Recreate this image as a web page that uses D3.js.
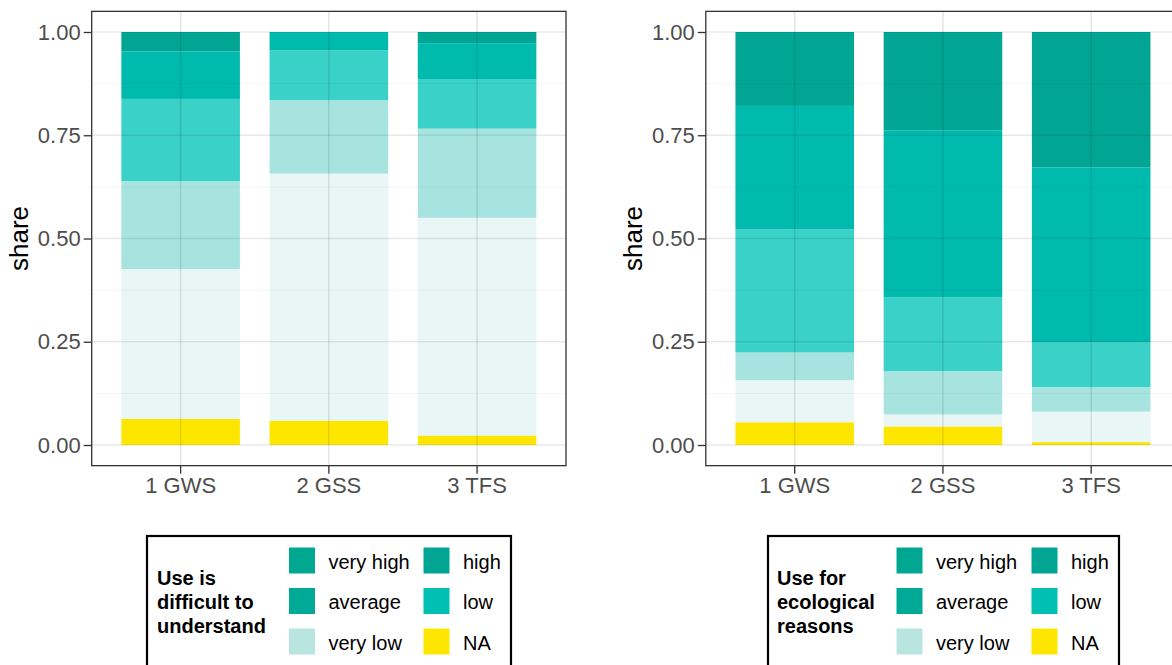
<!DOCTYPE html>
<html>
<head>
<meta charset="utf-8">
<script src="https://cdn.jsdelivr.net/npm/d3@7"></script>
<style>
  html, body { margin: 0; padding: 0; background: #fff; }
  svg { display: block; font-family: "Liberation Sans", Arial, sans-serif; }
</style>
</head>
<body>
<svg id="chart" width="1172" height="665"></svg>
<script>
// ---------- data ----------
const categories = ["1 GWS", "2 GSS", "3 TFS"];
const levels = ["very high", "high", "average", "low", "very low", "NA"];
const yTicks = [0, 0.25, 0.5, 0.75, 1];
const yTickLabels = ["0.00", "0.25", "0.50", "0.75", "1.00"];

// Chart 1: "Use is difficult to understand" (share per category)
const difficultVeryHigh = [0.047, 0.000, 0.027];
const difficultHigh     = [0.115, 0.044, 0.087];
const difficultAverage  = [0.199, 0.121, 0.120];
const difficultLow      = [0.213, 0.178, 0.216];
const difficultVeryLow  = [0.363, 0.598, 0.527];
const difficultNA       = [0.063, 0.059, 0.023];

// Chart 2: "Use for ecological reasons"
const ecoVeryHigh = [0.179, 0.238, 0.328];
const ecoHigh     = [0.299, 0.404, 0.423];
const ecoAverage  = [0.298, 0.179, 0.109];
const ecoLow      = [0.067, 0.105, 0.059];
const ecoVeryLow  = [0.102, 0.029, 0.074];
const ecoNA       = [0.055, 0.045, 0.007];

const barColors = {
  "very high": "#00A693", "high": "#00BAAD", "average": "#39D1C8",
  "low": "#A7E4E0", "very low": "#E8F7F6", "NA": "#FFE600"
};
const legendColors = {
  "very high": "#00A891", "high": "#00A693", "average": "#00AA96",
  "low": "#00C0B3", "very low": "#B9E5E1", "NA": "#FFE600"
};

function buildRows(vh, h, a, l, vl, na) {
  return categories.map((c, i) => ({
    cat: c, "very high": vh[i], "high": h[i], "average": a[i],
    "low": l[i], "very low": vl[i], "NA": na[i]
  }));
}

const svg = d3.select("#chart");

function drawPanel(cfg) {
  const g = svg.append("g");
  const x0 = cfg.left, x1 = cfg.left + cfg.width;
  const top = 11.35, bottom = 465.65;
  const y = d3.scaleLinear().domain([-0.05, 1.05]).range([bottom, top]);
  const x = d3.scaleBand().domain(categories)
    .range([x0, x1]).paddingInner(0.2).paddingOuter(0.2);

  // bars (stacked, NA at bottom)
  const stackKeys = levels.slice().reverse();
  const series = d3.stack().keys(stackKeys)(cfg.rows);
  series.forEach(s => {
    g.append("g").selectAll("rect").data(s).join("rect")
      .attr("x", d => x(d.data.cat))
      .attr("width", x.bandwidth())
      .attr("y", d => y(d[1]))
      .attr("height", d => Math.max(0, y(d[0]) - y(d[1])))
      .attr("fill", barColors[s.key]);
  });

  // grid (drawn over bars, semi-transparent so it shows through like the original)
  const clipId = "clip" + cfg.id;
  svg.append("clipPath").attr("id", clipId).append("rect")
    .attr("x", x0).attr("y", top).attr("width", cfg.width).attr("height", bottom - top);
  const grid = g.append("g").attr("clip-path", `url(#${clipId})`);
  const minor = [0.125, 0.375, 0.625, 0.875];
  grid.selectAll(".minor").data(minor).join("line")
    .attr("x1", x0).attr("x2", x1).attr("y1", d => y(d)).attr("y2", d => y(d))
    .attr("stroke", "#000").attr("stroke-opacity", 0.045).attr("stroke-width", 1);
  grid.selectAll(".major").data(yTicks).join("line")
    .attr("x1", x0).attr("x2", x1).attr("y1", d => y(d)).attr("y2", d => y(d))
    .attr("stroke", "#000").attr("stroke-opacity", 0.085).attr("stroke-width", 1.6);
  grid.selectAll(".vmajor").data(categories).join("line")
    .attr("x1", d => x(d) + x.bandwidth() / 2).attr("x2", d => x(d) + x.bandwidth() / 2)
    .attr("y1", top).attr("y2", bottom)
    .attr("stroke", "#000").attr("stroke-opacity", 0.1).attr("stroke-width", 1.6);

  // border
  g.append("rect").attr("x", x0).attr("y", top).attr("width", cfg.width).attr("height", bottom - top)
    .attr("fill", "none").attr("stroke", "#333").attr("stroke-width", 1.3);

  // y axis
  const yAxis = d3.axisLeft(y).tickValues(yTicks)
    .tickFormat((d, i) => yTickLabels[i]).tickSize(8).tickPadding(3);
  const ya = g.append("g").attr("transform", `translate(${x0},0)`).call(yAxis);
  ya.select(".domain").remove();
  ya.selectAll(".tick line").attr("stroke", "#333").attr("stroke-width", 1.3);
  ya.selectAll(".tick text").attr("fill", "#4D4D4D").style("font-size", "22px")
    .style("font-family", "Liberation Sans, Arial, sans-serif");

  // x axis
  const xAxis = d3.axisBottom(x).tickSize(8).tickPadding(4);
  const xa = g.append("g").attr("transform", `translate(0,${bottom})`).call(xAxis);
  xa.select(".domain").remove();
  xa.selectAll(".tick line").attr("stroke", "#333").attr("stroke-width", 1.3);
  xa.selectAll(".tick text").attr("fill", "#4D4D4D").style("font-size", "22px")
    .style("font-family", "Liberation Sans, Arial, sans-serif");

  // y title
  g.append("text")
    .attr("transform", `translate(${cfg.titleX},${y(0.5)}) rotate(-90)`)
    .attr("text-anchor", "middle").attr("fill", "#000")
    .style("font-size", "26px").text("share");

  // legend
  const L = cfg.legend;
  const lg = svg.append("g");
  lg.append("rect").attr("x", L.x).attr("y", 536).attr("width", L.w).attr("height", 150)
    .attr("fill", "#fff").attr("stroke", "#000").attr("stroke-width", 2.2);
  const tt = lg.append("text").attr("x", L.titleX).attr("y", 585)
    .style("font-size", "20px").style("font-weight", "bold").attr("fill", "#000");
  L.title.forEach((line, i) => {
    tt.append("tspan").attr("x", L.titleX).attr("y", 585 + i * 24).text(line);
  });
  const rowsY = [547, 587.5, 628];
  const legOrder = [["very high", "high"], ["average", "low"], ["very low", "NA"]];
  legOrder.forEach((pair, r) => {
    pair.forEach((lev, c) => {
      const kx = c === 0 ? L.k1 : L.k2;
      lg.append("rect").attr("x", kx).attr("y", rowsY[r]).attr("width", 27).attr("height", 27)
        .attr("fill", legendColors[lev]).attr("stroke", "#fff").attr("stroke-width", 1);
      lg.append("text").attr("x", kx + 40).attr("y", rowsY[r] + 21.5)
        .style("font-size", "20px").attr("fill", "#000").text(lev);
    });
  });
}

drawPanel({
  id: 1, left: 91.7, width: 474.3, titleX: 28,
  rows: buildRows(difficultVeryHigh, difficultHigh, difficultAverage, difficultLow, difficultVeryLow, difficultNA),
  legend: { x: 147, w: 364, titleX: 157, k1: 288.5, k2: 423, title: ["Use is", "difficult to", "understand"] }
});
drawPanel({
  id: 2, left: 705.8, width: 474.3, titleX: 642,
  rows: buildRows(ecoVeryHigh, ecoHigh, ecoAverage, ecoLow, ecoVeryLow, ecoNA),
  legend: { x: 768, w: 351, titleX: 777, k1: 896, k2: 1031, title: ["Use for", "ecological", "reasons"] }
});
</script>
</body>
</html>
